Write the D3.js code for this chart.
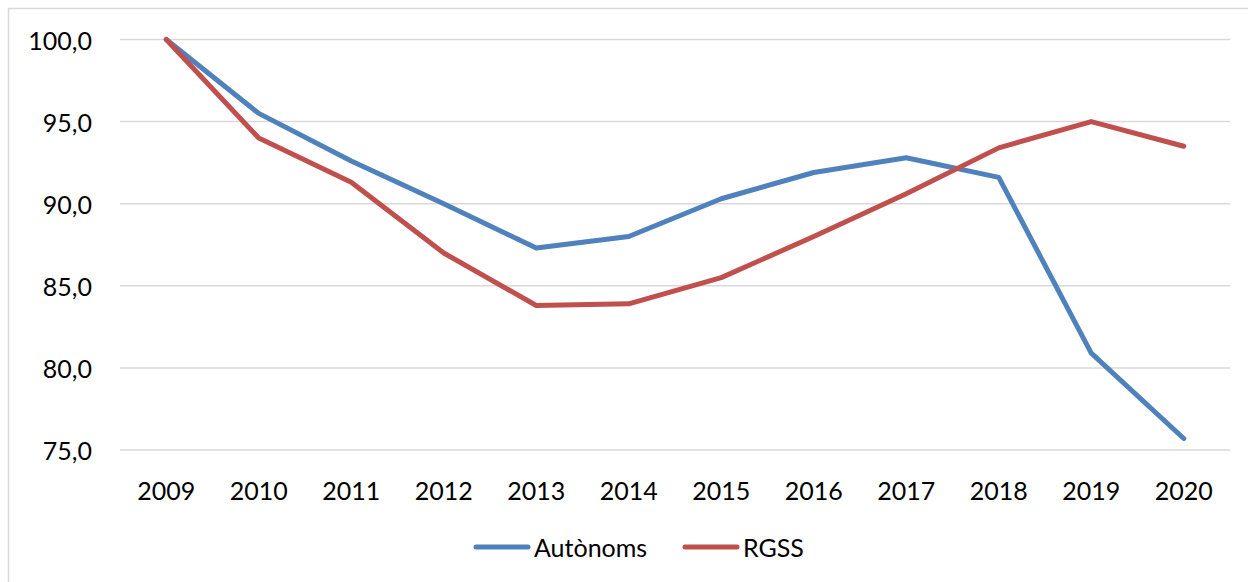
<html>

<head>
    <script src="https://d3js.org/d3.v7.min.js"></script>
    <style>
        body { margin: 0; background: #fff; }
        text { font-family: Lato, "Open Sans", sans-serif; fill: #000; }
    </style>
</head>

<body>
    <svg id="svg" width="1248" height="582"></svg>
    <script>
        const years = ["2009", "2010", "2011", "2012", "2013", "2014", "2015", "2016", "2017", "2018", "2019", "2020"];
        const autonoms = [100.0, 95.5, 92.6, 90.0, 87.3, 88.0, 90.3, 91.9, 92.8, 91.6, 80.9, 75.7];
        const rgss = [100.0, 94.0, 91.3, 87.0, 83.8, 83.9, 85.5, 88.0, 90.6, 93.4, 95.0, 93.5];
        const yTicks = [75, 80, 85, 90, 95, 100];
        const seriesNames = ["Autònoms", "RGSS"];
        const colors = ["#4f81bd", "#c0504d"];

        const svg = d3.select('#svg');
        const margin = { top: 39.5, left: 120, right: 18, bottom: 132 };

        // chart border (runs off the right and bottom of the window)
        svg.append("rect")
            .attr("x", 8.5).attr("y", 8.5)
            .attr("width", 1260).attr("height", 600)
            .style("fill", "none").style("stroke", "#d9d9d9").style("stroke-width", 1.5);

        const xScale = d3.scaleBand().domain(years).range([120, 1230]);
        const yScale = d3.scaleLinear().domain([75, 100]).range([450, 39.5]);

        svg.append("g").selectAll("line").data(yTicks)
            .join("line")
            .attr("x1", 120).attr("x2", 1230)
            .attr("y1", d => yScale(d)).attr("y2", d => yScale(d))
            .style("stroke", "#d9d9d9").style("stroke-width", 1.5);

        svg.append("g").selectAll("text").data(yTicks)
            .join("text")
            .attr("x", 92)
            .attr("y", d => yScale(d))
            .style("text-anchor", "end")
            .style("dominant-baseline", "central")
            .style("font-size", "25px")
            .text(d => d.toFixed(1).replace(".", ","));

        svg.append("g").selectAll("text").data(years)
            .join("text")
            .attr("x", d => xScale(d) + xScale.bandwidth() / 2)
            .attr("y", 490)
            .style("text-anchor", "middle")
            .style("dominant-baseline", "central")
            .style("font-size", "25px")
            .text(d => d);

        const line = d3.line()
            .x((_, i) => xScale(years[i]) + xScale.bandwidth() / 2)
            .y(d => yScale(d));

        [autonoms, rgss].forEach((s, i) => {
            svg.append("path")
                .datum(s)
                .attr("d", line)
                .style("fill", "none")
                .style("stroke", colors[i])
                .style("stroke-width", 5)
                .style("stroke-linejoin", "round")
                .style("stroke-linecap", "round");
        });

        // legend
        const legendX = [476, 685];
        seriesNames.forEach((name, i) => {
            svg.append("line")
                .attr("x1", legendX[i]).attr("x2", legendX[i] + 52)
                .attr("y1", 547).attr("y2", 547)
                .style("stroke", colors[i]).style("stroke-width", 5)
                .style("stroke-linecap", "round");
            svg.append("text")
                .attr("x", legendX[i] + 58)
                .attr("y", 547)
                .style("dominant-baseline", "central")
                .style("font-size", "25px")
                .text(name);
        });
    </script>
</body>

</html>
